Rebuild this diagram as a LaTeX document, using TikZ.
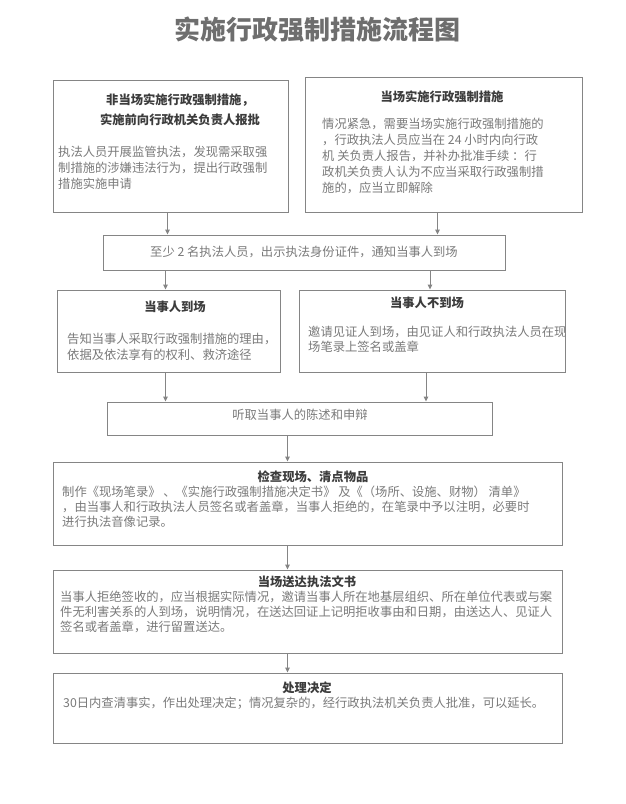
\documentclass[tikz,border=0pt]{standalone}
\usepackage{fontspec}
\setmainfont{Noto Sans CJK SC}
\usetikzlibrary{positioning,calc,arrows.meta}
\definecolor{linegray}{HTML}{858585}
\definecolor{titlegray}{HTML}{6E6E6E}
\definecolor{headgray}{HTML}{3C3C3C}
\definecolor{bodygray}{HTML}{7A7A7A}
\tikzset{
  box/.style={rectangle,draw=linegray,line width=0.9pt,inner sep=0},
  head/.style={font=\bfseries\fontsize{12.3}{20}\selectfont,text=headgray,align=center,inner sep=0},
  body/.style={font=\fontsize{12.3}{16}\selectfont,text=bodygray,align=left,inner sep=0},
  % body text in the wide boxes sits a little tighter
  bodyw/.style={body,font=\fontsize{12.3}{15}\selectfont},
  arr/.style={-{Triangle[length=5pt,width=4.5pt]},draw=linegray,line width=0.9pt},
}
\begin{document}
\begin{tikzpicture}[x=1pt,y=-1pt]
  \useasboundingbox[fill=white] (0,0) rectangle (626,804);
  \node[font=\bfseries\fontsize{26}{30}\selectfont,text=titlegray,inner sep=0] (title) at (317,30) {实施行政强制措施流程图};

  % two ways to start
  \node[box,minimum width=235,minimum height=132] (A) at (170.5,146) {};
  \node[head] (Ahead) at (180,110) {非当场实施行政强制措施，\\实施前向行政机关负责人报批};
  \node[body,anchor=north west] (Abody) at (58,146) {执法人员开展监管执法，发现需采取强\\制措施的涉嫌违法行为，提出行政强制\\措施实施申请};

  \node[box,minimum width=277,minimum height=135] (B) at (443.5,144.5) {};
  \node[head] (Bhead) at (442,97) {当场实施行政强制措施};
  \node[body,anchor=north west] (Bbody) at (322,118) {情况紧急，需要当场实施行政强制措施的\\，行政执法人员应当在 24 小时内向行政\\机 关负责人报告，并补办批准手续 ：行\\政机关负责人认为不应当采取行政强制措\\施的，应当立即解除};

  \node[box,minimum width=402,minimum height=35] (C) at (304,252.5) {};
  \node[body] (Ctext) at (304,252) {至少 2 名执法人员，出示执法身份证件，通知当事人到场};

  % party present or absent
  \node[box,minimum width=223,minimum height=82] (D) at (168.5,331) {};
  \node[head] (Dhead) at (175,307) {当事人到场};
  \node[body,anchor=north west] (Dbody) at (67,333) {告知当事人采取行政强制措施的理由，\\依据及依法享有的权利、救济途径};

  \node[box,minimum width=266,minimum height=82] (E) at (432,331) {};
  \node[head] (Ehead) at (427,303) {当事人不到场};
  \node[bodyw,anchor=north west] (Ebody) at (308,326) {邀请见证人到场，由见证人和行政执法人员在现\\场笔录上签名或盖章};

  \node[box,minimum width=385,minimum height=33] (F) at (299.5,418.5) {};
  \node[body] (Ftext) at (300,415) {听取当事人的陈述和申辩};

  % the steps that follow
  \node[box,minimum width=509,minimum height=83] (G) at (307.5,503.5) {};
  \node[head] (Ghead) at (313,477) {检查现场、清点物品};
  \node[bodyw,anchor=north west] (Gbody) at (62,486) {制作《现场笔录》 、《实施行政强制措施决定书》 及《（场所、设施、财物） 清单》\\，由当事人和行政执法人员签名或者盖章，当事人拒绝的，在笔录中予以注明，必要时\\进行执法音像记录。};

  \node[box,minimum width=509,minimum height=83] (H) at (307.5,611.5) {};
  \node[head] (Hhead) at (307,582) {当场送达执法文书};
  \node[bodyw,anchor=north west] (Hbody) at (60,591) {当事人拒绝签收的，应当根据实际情况，邀请当事人所在地基层组织、所在单位代表或与案\\件无利害关系的人到场，说明情况，在送达回证上记明拒收事由和日期，由送达人、见证人\\签名或者盖章，进行留置送达。};

  \node[box,minimum width=509,minimum height=70] (I) at (307.5,708) {};
  \node[head] (Ihead) at (307,688) {处理决定};
  \node[bodyw,anchor=north west] (Ibody) at (63,697) {30日内查清事实，作出处理决定；情况复杂的，经行政执法机关负责人批准，可以延长。};

  % connectors
  \draw[arr] ([xshift=-3pt]A.south) -- ([xshift=-3pt]A.south |- C.north);
  \draw[arr] ([xshift=-6pt]B.south) -- ([xshift=-6pt]B.south |- C.north);
  \draw[arr] ([xshift=-3pt]D.north |- C.south) -- ([xshift=-3pt]D.north);
  \draw[arr] ([xshift=-2pt]E.north |- C.south) -- ([xshift=-2pt]E.north);
  \draw[arr] ([xshift=-3pt]D.south) -- ([xshift=-3pt]D.south |- F.north);
  \draw[arr] ([xshift=-6pt]E.south) -- ([xshift=-6pt]E.south |- F.north);
  \draw[arr] ([xshift=-20pt]G.north |- F.south) -- ([xshift=-20pt]G.north);
  \draw[arr] ([xshift=-20pt]G.south) -- ([xshift=-20pt]G.south |- H.north);
  \draw[arr] ([xshift=-20pt]H.south) -- ([xshift=-20pt]H.south |- I.north);
\end{tikzpicture}
\end{document}
